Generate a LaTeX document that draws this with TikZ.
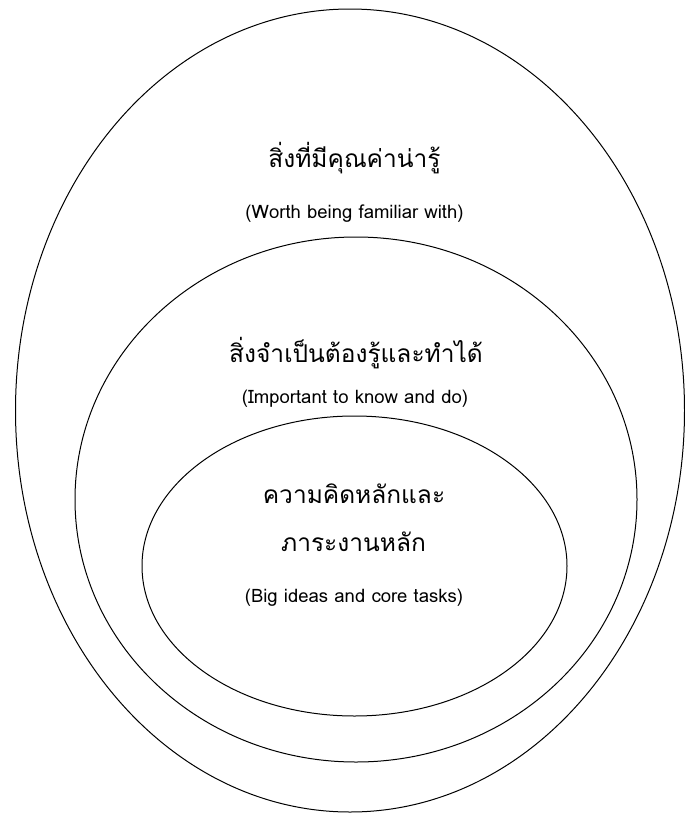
\documentclass[tikz,border=0pt]{standalone}
\usepackage{fontspec}
\newfontfamily\thaifont[Script=Thai]{Loma}
\usetikzlibrary{positioning}

\begin{document}
\begin{tikzpicture}[x=1pt, y=-1pt,
    ring/.style={draw=black, line width=1pt},
    thaitext/.style={font=\thaifont\fontsize{24.5}{28}\selectfont, inner sep=0pt, anchor=base},
    engtext/.style={font=\thaifont\fontsize{18.5}{21}\selectfont, inner sep=0pt, anchor=base}]
            \useasboundingbox (0, 0) rectangle (685, 814);

            \draw[ring] (350, 410.5) ellipse (334.5 and 401.5);
            \draw[ring] (356, 499.5) ellipse (281 and 262.5);
            \draw[ring] (354.5, 566) ellipse (212.5 and 150);

            \node[thaitext] (worth) at (354.5, 167) {สิ่งที่มีคุณค่าน่ารู้};
            \node[engtext] (worthen) at (354.5, 218) {(Worth being familiar with)};
            \node[thaitext] (important) at (356, 362) {สิ่งจำเป็นต้องรู้และทำได้};
            \node[engtext] (importanten) at (355, 403) {(Important to know and do)};
            \node[thaitext] (bigidea) at (354, 503) {ความคิดหลักและ};
            \node[thaitext] (coretask) at (353.5, 551) {ภาระงานหลัก};
            \node[engtext] (bigideaen) at (354, 602) {(Big ideas and core tasks)};
        \end{tikzpicture}
\end{document}
